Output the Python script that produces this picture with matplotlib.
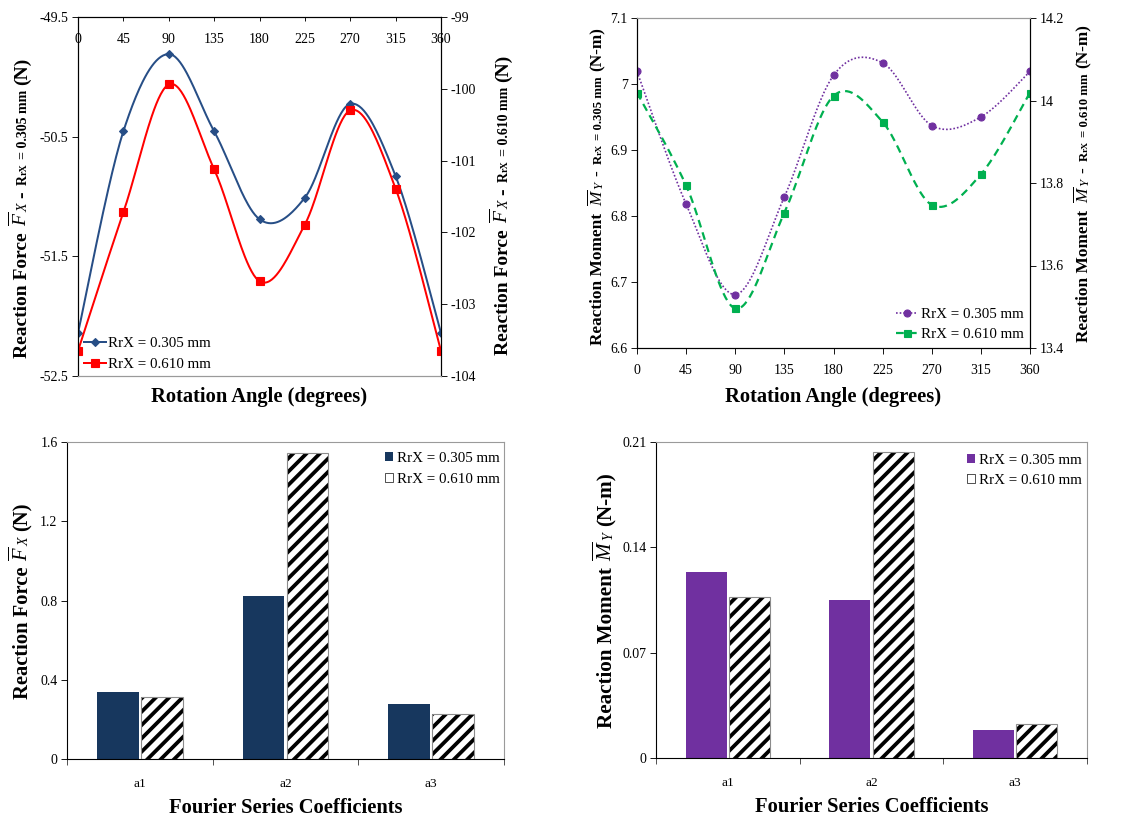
import numpy as np
import matplotlib
matplotlib.use('Agg')
import matplotlib.pyplot as plt
from matplotlib.lines import Line2D
from matplotlib.patches import Patch
from matplotlib.ticker import FuncFormatter

# rotation angle sweep
angles = [0, 45, 90, 135, 180, 225, 270, 315, 360]

# mean reaction force Fx (N)
fx_305 = [-52.14, -50.455, -49.81, -50.455, -51.19, -51.01, -50.226, -50.83, -52.14]
fx_610 = [-103.65, -101.72, -99.94, -101.12, -102.68, -101.89, -100.30, -101.39, -103.65]

# mean reaction moment My (N-m)
my_305 = [7.019, 6.818, 6.681, 6.829, 7.013, 7.032, 6.937, 6.950, 7.019]
my_610 = [14.019, 13.794, 13.496, 13.728, 14.011, 13.948, 13.747, 13.821, 14.019]

# Fourier series coefficient amplitudes
coeffs = ['a1', 'a2', 'a3']
fx_amp_305 = [0.336, 0.824, 0.276]
fx_amp_610 = [0.311, 1.545, 0.229]
my_amp_305 = [0.1236, 0.105, 0.0183]
my_amp_610 = [0.1068, 0.2034, 0.0225]

lab_305 = 'RrX = 0.305 mm'
lab_610 = 'RrX = 0.610 mm'

plt.rcParams['font.family'] = ['Liberation Serif', 'DejaVu Serif']
plt.rcParams['mathtext.fontset'] = 'custom'
plt.rcParams['mathtext.rm'] = 'Liberation Serif'
plt.rcParams['mathtext.it'] = 'Liberation Serif:italic'
plt.rcParams['mathtext.bf'] = 'Liberation Serif:bold'
plt.rcParams['axes.unicode_minus'] = False
plt.rcParams['hatch.linewidth'] = 3.4

W, H, DPI = 1131, 822, 80
fig = plt.figure(figsize=(W / DPI, H / DPI), dpi=DPI)

BLUE = '#274E86'
RED = '#FF0000'
NAVY = '#17375E'
PURPLE = '#7030A0'
GREEN = '#00B050'
FRAME = '#9A9A9A'

TICK_FS = 12.5
LEG_FS = 13.5
XLAB_FS = 18.5


def px_axes(l, t, r, b):
    return fig.add_axes([l / W, 1 - b / H, (r - l) / W, (b - t) / H])


def smooth(x, y, n=40):
    # Catmull-Rom curve through the points, like spreadsheet "smoothed lines"
    P = np.column_stack([x, y]).astype(float)
    P = np.vstack([P[0], P, P[-1]])
    t = np.linspace(0, 1, n, endpoint=False)[:, None]
    segs = []
    for i in range(1, len(P) - 2):
        p0, p1, p2, p3 = P[i - 1], P[i], P[i + 1], P[i + 2]
        segs.append(0.5 * (2 * p1 + (p2 - p0) * t
                           + (2 * p0 - 5 * p1 + 4 * p2 - p3) * t ** 2
                           + (3 * p1 - p0 - 3 * p2 + p3) * t ** 3))
    segs.append(P[-2][None])
    c = np.vstack(segs)
    return c[:, 0], c[:, 1]


def stacked_ylabel(x_px, yc_px, parts):
    # rotated label built from pieces of different size / style
    r = fig.canvas.get_renderer()
    items = []
    for s, props, gap in parts:
        t = fig.text(0, 0, s, rotation=90, rotation_mode='anchor',
                     ha='left', va='baseline', **props)
        items.append((t, t.get_window_extent(r).height, gap))
    total = sum(h + g for _, h, g in items) - items[-1][2]
    y = (H - yc_px) - total / 2
    for t, h, g in items:
        t.set_position((x_px / W, y / H))
        y += h + g


def fmt(v, pos):
    return '{:g}'.format(round(v, 4))


def style_spines(ax, black=('left', 'bottom'), grey=('top', 'right')):
    for s in black:
        ax.spines[s].set_color('black')
        ax.spines[s].set_linewidth(1.0)
    for s in grey:
        ax.spines[s].set_color(FRAME)
        ax.spines[s].set_linewidth(1.0)


def label_parts(name, sym, sub, tail, rrx, big, small, tiny):
    parts = [(name, dict(fontsize=big, fontweight='bold'), 6),
             (r'$\overline{%s}$' % sym, dict(fontsize=big), 0),
             (sub, dict(fontsize=small, style='italic'), 6)]
    if rrx is not None:
        parts += [('-', dict(fontsize=big, fontweight='bold'), 6),
                  ('R', dict(fontsize=small, fontweight='bold'), 0),
                  ('rX', dict(fontsize=tiny, fontweight='bold'), 4),
                  ('= ' + rrx + ' mm', dict(fontsize=small, fontweight='bold'), 5)]
    parts.append((tail, dict(fontsize=big, fontweight='bold'), 0))
    return parts


# ---------------- reaction force vs angle ----------------
ax1 = px_axes(78, 17, 441, 376)
ax1b = ax1.twinx()
xs, ys = smooth(angles, fx_305)
ax1.plot(xs, ys, color=BLUE, lw=1.8)
ax1.plot(angles, fx_305, ls='none', marker='D', ms=5.5, color=BLUE)
xs, ys = smooth(angles, fx_610)
ax1b.plot(xs, ys, color=RED, lw=1.8)
ax1b.plot(angles, fx_610, ls='none', marker='s', ms=7, color=RED)

ax1.set_xlim(0, 360)
ax1.set_ylim(-52.5, -49.5)
ax1b.set_ylim(-104, -99)
ax1.set_xticks(angles)
ax1.set_yticks([-52.5, -51.5, -50.5, -49.5])
ax1b.set_yticks([-104, -103, -102, -101, -100, -99])
ax1.xaxis.set_ticks_position('top')
ax1.tick_params(axis='x', direction='in', length=4, pad=-26,
                labeltop=True, labelbottom=False, labelsize=TICK_FS)
ax1.tick_params(axis='y', direction='out', length=5, labelsize=TICK_FS)
ax1b.tick_params(axis='y', direction='out', length=5, labelsize=TICK_FS)
ax1.yaxis.set_major_formatter(FuncFormatter(fmt))
ax1b.yaxis.set_major_formatter(FuncFormatter(fmt))
for a in (ax1, ax1b):
    style_spines(a, black=('left', 'right', 'top'), grey=('bottom',))
ax1.set_xlabel('Rotation Angle (degrees)', fontsize=XLAB_FS, fontweight='bold')
ax1.xaxis.set_label_coords(0.5, -0.032)
h1 = [Line2D([], [], color=BLUE, lw=1.8, marker='D', ms=5.5),
      Line2D([], [], color=RED, lw=1.8, marker='s', ms=7)]
ax1b.legend(h1, [lab_305, lab_610], loc='lower left', bbox_to_anchor=(0.016, 0.014),
            frameon=False, fontsize=LEG_FS, handlelength=1.5, handletextpad=0.1,
            labelspacing=0.5, borderpad=0, borderaxespad=0)

# ---------------- reaction moment vs angle ----------------
ax2 = px_axes(637, 18, 1030, 348)
ax2b = ax2.twinx()
xs, ys = smooth(angles, my_305)
ax2.plot(xs, ys, color=PURPLE, lw=1.5, ls=(0, (1, 1.2)))
ax2.plot(angles, my_305, ls='none', marker='o', ms=6.3, color=PURPLE)
xs, ys = smooth(angles, my_610)
ax2b.plot(xs, ys, color=GREEN, lw=2.0, ls=(0, (3.5, 2.3)))
ax2b.plot(angles, my_610, ls='none', marker='s', ms=6.3, color=GREEN)

ax2.set_xlim(0, 360)
ax2.set_ylim(6.6, 7.1)
ax2b.set_ylim(13.4, 14.2)
ax2.set_xticks(angles)
ax2.set_yticks(np.round(np.arange(6.6, 7.101, 0.1), 2))
ax2b.set_yticks(np.round(np.arange(13.4, 14.201, 0.2), 2))
ax2.tick_params(axis='x', direction='out', length=5, labelsize=TICK_FS, pad=9)
ax2.tick_params(axis='y', direction='out', length=5, labelsize=TICK_FS)
ax2b.tick_params(axis='y', direction='out', length=5, labelsize=TICK_FS)
ax2.yaxis.set_major_formatter(FuncFormatter(fmt))
ax2b.yaxis.set_major_formatter(FuncFormatter(fmt))
for a in (ax2, ax2b):
    style_spines(a, black=('left', 'right', 'bottom'), grey=('top',))
ax2.set_xlabel('Rotation Angle (degrees)', fontsize=XLAB_FS, fontweight='bold')
ax2.xaxis.set_label_coords(0.5, -0.118)
h2 = [Line2D([], [], color=PURPLE, lw=1.5, ls=(0, (1, 1.2)), marker='o', ms=6.3),
      Line2D([], [], color=GREEN, lw=2.0, ls=(0, (3.5, 2.3)), marker='s', ms=6.3)]
ax2b.legend(h2, [lab_305, lab_610], loc='lower right', bbox_to_anchor=(0.985, 0.02),
            frameon=False, fontsize=LEG_FS, handlelength=1.5, handletextpad=0.2,
            labelspacing=0.45, borderpad=0, borderaxespad=0)


# ---------------- Fourier coefficient bars ----------------
def coeff_bars(ax, v305, v610, color, ymax, step):
    x = np.arange(len(coeffs))
    ax.bar(x - 0.151, v305, width=0.284, color=color, edgecolor='none', zorder=2)
    ax.bar(x + 0.151, v610, width=0.284, color='white', edgecolor='black',
           hatch='//', linewidth=0, zorder=2)
    ax.bar(x + 0.151, v610, width=0.284, fill=False, edgecolor='#8C8C8C',
           linewidth=1.0, zorder=3)
    ax.set_xlim(-0.5, len(coeffs) - 0.5)
    ax.set_ylim(0, ymax)
    ax.set_yticks(np.round(np.arange(0, ymax + step / 2, step), 4))
    ax.yaxis.set_major_formatter(FuncFormatter(fmt))
    ax.set_xticks(x)
    ax.set_xticklabels(coeffs)
    ax.set_xticks(np.arange(-0.5, len(coeffs)), minor=True)
    ax.tick_params(axis='x', which='major', length=0, pad=17, labelsize=12)
    ax.tick_params(axis='x', which='minor', length=5, direction='out')
    ax.tick_params(axis='y', direction='out', length=5, labelsize=TICK_FS)
    style_spines(ax)
    ax.set_xlabel('Fourier Series Coefficients', fontsize=XLAB_FS, fontweight='bold',
                  labelpad=7)
    hs = [Patch(facecolor=color, edgecolor='none'),
          Patch(facecolor='white', edgecolor='black', hatch='/', linewidth=0.6)]
    return hs


ax3 = px_axes(67, 442, 504, 759)
h3 = coeff_bars(ax3, fx_amp_305, fx_amp_610, NAVY, 1.6, 0.4)
ax3.legend(h3, [lab_305, lab_610], loc='upper right', bbox_to_anchor=(0.99, 0.968),
           frameon=False, fontsize=LEG_FS, handlelength=0.55, handleheight=0.55,
           handletextpad=0.25, labelspacing=0.5, borderpad=0, borderaxespad=0)

ax4 = px_axes(656, 442, 1087, 758)
h4 = coeff_bars(ax4, my_amp_305, my_amp_610, PURPLE, 0.21, 0.07)
ax4.legend(h4, [lab_305, lab_610], loc='upper right', bbox_to_anchor=(0.987, 0.963),
           frameon=False, fontsize=LEG_FS, handlelength=0.55, handleheight=0.55,
           handletextpad=0.25, labelspacing=0.5, borderpad=0, borderaxespad=0)

# ---------------- y-axis titles ----------------
stacked_ylabel(27, 208, label_parts('Reaction Force', 'F', 'X', '(N)', '0.305', 17.5, 12.5, 9))
stacked_ylabel(508, 205, label_parts('Reaction Force', 'F', 'X', '(N)', '0.610', 17.5, 12.5, 9))
stacked_ylabel(602, 186, label_parts('Reaction Moment', 'M', 'Y', '(N-m)', '0.305', 15.5, 11.5, 8.5))
stacked_ylabel(1088, 183, label_parts('Reaction Moment', 'M', 'Y', '(N-m)', '0.610', 15.5, 11.5, 8.5))
stacked_ylabel(28, 601, label_parts('Reaction Force', 'F', 'X', '(N)', None, 18.5, 12.5, 9))
stacked_ylabel(612, 600, label_parts('Reaction Moment', 'M', 'Y', '(N-m)', None, 19, 12.5, 9))

fig.savefig('out.png', dpi=DPI)
